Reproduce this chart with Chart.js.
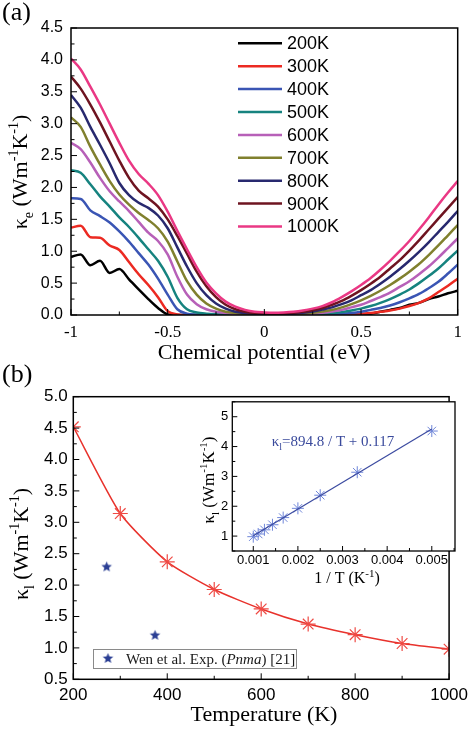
<!DOCTYPE html>
<html>
<head>
<meta charset="utf-8">
<script src="https://cdn.jsdelivr.net/npm/chart.js@4.4.0/dist/chart.umd.min.js"></script>
<style>
  html, body { margin: 0; padding: 0; background: #fff; }
  #wrap { position: relative; width: 474px; height: 729px; overflow: hidden; background: #fff; }
  canvas { position: absolute; }
</style>
</head>
<body>
<div id="wrap">
  <canvas id="chartA" width="474" height="372" style="left:0;top:0"></canvas>
  <canvas id="chartB" width="474" height="371" style="left:0;top:358px"></canvas>
  <canvas id="chartInset" width="279" height="200" style="left:195px;top:390px"></canvas>
</div>
<script>
// ---- panel (a): electronic thermal conductivity vs chemical potential ----
const mu = [-1, -0.95, -0.9, -0.85, -0.8, -0.75, -0.7, -0.65, -0.6, -0.55, -0.5, -0.45, -0.4, -0.35, -0.3, -0.25, -0.2, -0.15, -0.1, -0.05,
            0, 0.05, 0.1, 0.15, 0.2, 0.25, 0.3, 0.35, 0.4, 0.45, 0.5, 0.55, 0.6, 0.65, 0.7, 0.75, 0.8, 0.85, 0.9, 0.95, 1];
const tempLabels = ['200K', '300K', '400K', '500K', '600K', '700K', '800K', '900K', '1000K'];

const k200 = [0.91, 0.95, 0.78, 0.85, 0.66, 0.72, 0.56, 0.40, 0.25, 0.11, 0.01, 0, 0, 0, 0, 0, 0, 0, 0, 0,
              0, 0, 0, 0, 0, 0, 0, 0, 0, 0, 0, 0.02, 0.05, 0.08, 0.11, 0.16, 0.19, 0.25, 0.29, 0.34, 0.38];
const k300 = [1.37, 1.40, 1.22, 1.21, 1.09, 1.02, 0.83, 0.64, 0.47, 0.28, 0.06, 0.01, 0, 0, 0, 0, 0, 0, 0, 0,
              0, 0, 0, 0, 0, 0, 0, 0, 0, 0.01, 0.02, 0.03, 0.05, 0.07, 0.10, 0.14, 0.19, 0.26, 0.36, 0.46, 0.57];
const k400 = [1.83, 1.82, 1.64, 1.55, 1.45, 1.31, 1.15, 0.97, 0.79, 0.57, 0.32, 0.09, 0.02, 0.005, 0, 0, 0, 0, 0, 0,
              0, 0, 0, 0, 0, 0, 0, 0.01, 0.02, 0.03, 0.05, 0.08, 0.11, 0.15, 0.20, 0.26, 0.33, 0.42, 0.52, 0.65, 0.79];
const k500 = [2.27, 2.23, 2.05, 1.86, 1.70, 1.53, 1.38, 1.21, 1.03, 0.85, 0.60, 0.27, 0.09, 0.04, 0.02, 0.01, 0.005, 0, 0, 0,
              0, 0, 0, 0, 0, 0.008, 0.015, 0.03, 0.045, 0.07, 0.10, 0.14, 0.19, 0.25, 0.32, 0.40, 0.50, 0.61, 0.73, 0.87, 1.01];
const k600 = [2.70, 2.60, 2.39, 2.15, 1.94, 1.78, 1.63, 1.46, 1.29, 1.16, 0.95, 0.60, 0.32, 0.17, 0.09, 0.05, 0.03, 0.015, 0.008, 0.005,
              0.004, 0.004, 0.004, 0.006, 0.01, 0.02, 0.035, 0.055, 0.08, 0.12, 0.16, 0.22, 0.28, 0.35, 0.44, 0.53, 0.64, 0.76, 0.90, 1.05, 1.20];
const k700 = [3.10, 2.95, 2.64, 2.36, 2.10, 1.89, 1.73, 1.60, 1.49, 1.36, 1.15, 0.84, 0.53, 0.32, 0.18, 0.10, 0.05, 0.03, 0.015, 0.01,
              0.008, 0.006, 0.008, 0.012, 0.02, 0.035, 0.055, 0.08, 0.12, 0.17, 0.23, 0.30, 0.38, 0.47, 0.57, 0.68, 0.80, 0.94, 1.09, 1.25, 1.41];
const k800 = [3.45, 3.25, 2.95, 2.67, 2.38, 2.07, 1.88, 1.76, 1.68, 1.56, 1.36, 1.06, 0.76, 0.50, 0.31, 0.18, 0.10, 0.05, 0.03, 0.02,
              0.015, 0.012, 0.015, 0.02, 0.035, 0.055, 0.085, 0.12, 0.17, 0.23, 0.31, 0.39, 0.49, 0.60, 0.72, 0.85, 0.99, 1.14, 1.30, 1.46, 1.63];
const k900 = [3.74, 3.55, 3.30, 3.02, 2.72, 2.42, 2.15, 1.95, 1.83, 1.70, 1.50, 1.24, 0.96, 0.68, 0.45, 0.28, 0.16, 0.09, 0.05, 0.03,
              0.025, 0.02, 0.025, 0.035, 0.05, 0.075, 0.11, 0.16, 0.22, 0.30, 0.39, 0.49, 0.60, 0.73, 0.86, 1.01, 1.17, 1.34, 1.51, 1.68, 1.85];
const k1000 = [4.02, 3.85, 3.58, 3.30, 3.00, 2.70, 2.42, 2.21, 2.06, 1.88, 1.62, 1.32, 1.03, 0.75, 0.51, 0.34, 0.21, 0.13, 0.08, 0.05,
               0.04, 0.035, 0.04, 0.05, 0.07, 0.10, 0.14, 0.20, 0.28, 0.37, 0.47, 0.58, 0.71, 0.85, 1.00, 1.16, 1.34, 1.53, 1.73, 1.92, 2.10];
const kSeries = [k200, k300, k400, k500, k600, k700, k800, k900, k1000];

const muTicks = [-1, -0.5, 0, 0.5, 1];
const muTickLabels = ['-1', '-0.5', '0', '0.5', '1'];
const keTicks = [0, 0.5, 1, 1.5, 2, 2.5, 3, 3.5, 4, 4.5];

// ---- panel (b): lattice thermal conductivity vs temperature ----
const temps = [200, 300, 400, 500, 600, 700, 800, 900, 1000];
const kappaL = [4.52, 3.14, 2.37, 1.93, 1.62, 1.38, 1.21, 1.07, 0.98];
const wenT = [271, 374];
const wenK = [2.29, 1.20];
const tTicks = [200, 400, 600, 800, 1000];
const klTicks = [0.5, 1, 1.5, 2, 2.5, 3, 3.5, 4, 4.5, 5];

// ---- inset: kappa_l vs 1/T ----
const invT = [0.005, 0.00333, 0.0025, 0.002, 0.00167, 0.00143, 0.00125, 0.00111, 0.001];
const fitX = [0.001, 0.005];
const fitY = [1.01, 4.59];
const invTTicks = [0.001, 0.002, 0.003, 0.004, 0.005];
const insetYTicks = [1, 2, 3, 4, 5];

const curveColors = ['#000000', '#ec2a22', '#3a55b4', '#16837f', '#b760b8', '#80802e', '#28296f', '#6e1420', '#ea3884'];
const SANS = '"Liberation Sans", Arial, sans-serif';
const SERIF = '"Liberation Serif", "Times New Roman", serif';

// text with sub/superscripts, parts = [{t, s, dy, it}]
function drawRich(ctx, parts, x, y, angle, align, color) {
  ctx.save();
  ctx.translate(x, y);
  if (angle) ctx.rotate(angle);
  ctx.fillStyle = color || '#000';
  ctx.textAlign = 'left';
  ctx.textBaseline = 'alphabetic';
  let total = 0;
  parts.forEach(p => {
    ctx.font = (p.it ? 'italic ' : '') + p.s + 'px ' + SERIF;
    p.w = ctx.measureText(p.t).width;
    total += p.w;
  });
  let cx = align === 'left' ? 0 : -total / 2;
  parts.forEach(p => {
    ctx.font = (p.it ? 'italic ' : '') + p.s + 'px ' + SERIF;
    ctx.fillText(p.t, cx, p.dy || 0);
    cx += p.w;
  });
  ctx.restore();
}

function kappaTitle(sub, big, small) {
  return [
    { t: 'κ', s: big },
    { t: sub, s: small, dy: big * 0.28 },
    { t: ' (Wm', s: big },
    { t: '-1', s: small, dy: -big * 0.4 },
    { t: 'K', s: big },
    { t: '-1', s: small, dy: -big * 0.4 },
    { t: ')', s: big }
  ];
}

// frame box plus inward major/minor ticks on bottom and left axes
const frameTicks = {
  id: 'frameTicks',
  afterDatasetsDraw(chart, args, opts) {
    const { ctx, chartArea: a, scales } = chart;
    ctx.save();
    ctx.strokeStyle = '#000';
    ctx.lineWidth = opts.lw || 1.5;
    ctx.strokeRect(a.left, a.top, a.right - a.left, a.bottom - a.top);
    ctx.lineWidth = 1;
    ['x', 'y'].forEach(id => {
      const s = scales[id];
      const [major, minor] = opts[id];
      let v = Math.ceil(s.min / minor - 1e-6) * minor;
      for (; v <= s.max + 1e-9; v += minor) {
        const isMajor = Math.abs(v / major - Math.round(v / major)) < 1e-4;
        const len = isMajor ? (opts.major || 6) : (opts.minor || 3.5);
        const p = s.getPixelForValue(v);
        ctx.beginPath();
        if (id === 'x') { ctx.moveTo(p, a.bottom); ctx.lineTo(p, a.bottom - len); }
        else { ctx.moveTo(a.left, p); ctx.lineTo(a.left + len, p); }
        ctx.stroke();
      }
    });
    ctx.restore();
  }
};

const textLayer = {
  id: 'textLayer',
  afterDraw(chart, args, opts) {
    if (opts.draw) opts.draw(chart.ctx, chart);
  }
};

function axis(min, max, ticks, labelFn, font, pad, size) {
  return {
    type: 'linear', min, max,
    afterBuildTicks: s => { s.ticks = ticks.map(v => ({ value: v })); },
    afterFit: s => { if (s.isHorizontal()) s.height = size; else s.width = size; },
    grid: { display: false, drawTicks: false },
    border: { display: false },
    ticks: {
      autoSkip: false, maxRotation: 0, padding: pad, color: '#000', font,
      callback: labelFn
    }
  };
}

// ---------------- chart (a) ----------------
new Chart(document.getElementById('chartA'), {
  type: 'line',
  data: {
    datasets: tempLabels.map((lab, i) => ({
      label: lab,
      data: mu.map((m, j) => ({ x: m, y: kSeries[i][j] })),
      borderColor: curveColors[i],
      backgroundColor: curveColors[i],
      borderWidth: 2.5,
      pointRadius: 0,
      cubicInterpolationMode: 'monotone',
      order: 9 - i
    }))
  },
  options: {
    responsive: false,
    animation: false,
    layout: { padding: { top: 28, right: 16.3, left: 0, bottom: 0 } },
    plugins: {
      legend: { display: false },
      tooltip: { enabled: false },
      frameTicks: { x: [0.5, 0.25], y: [0.5, 0.25] },
      textLayer: {
        draw(ctx, chart) {
          // legend
          chart.data.datasets.forEach((ds, i) => {
            const y = 43.3 + i * 22.9;
            ctx.save();
            ctx.strokeStyle = ds.borderColor;
            ctx.lineWidth = 2.5;
            ctx.beginPath(); ctx.moveTo(238, y); ctx.lineTo(282, y); ctx.stroke();
            ctx.fillStyle = '#000';
            ctx.font = '18px ' + SANS;
            ctx.textBaseline = 'middle';
            ctx.fillText(ds.label, 287, y + 1);
            ctx.restore();
          });
          drawRich(ctx, [{ t: '(a)', s: 26 }], 2, 20, 0, 'left');
          drawRich(ctx, [{ t: 'Chemical potential (eV)', s: 22 }], 264, 359);
          drawRich(ctx, kappaTitle('e', 22, 14), 27, 172, -Math.PI / 2);
        }
      }
    },
    scales: {
      x: axis(-1, 1, muTicks, (v, i) => muTickLabels[i], { family: SERIF, size: 17 }, 7, 57),
      y: axis(0, 4.5, keTicks, v => v.toFixed(1), { family: SANS, size: 16 }, 8, 71)
    }
  },
  plugins: [frameTicks, textLayer]
});

// filled five-point star used for the experimental points
function makeStar(r, color) {
  const c = document.createElement('canvas');
  c.width = c.height = 2 * r + 2;
  const g = c.getContext('2d');
  g.fillStyle = color;
  g.beginPath();
  for (let i = 0; i < 10; i++) {
    const rad = i % 2 ? r * 0.45 : r;
    const ang = -Math.PI / 2 + i * Math.PI / 5;
    g.lineTo(r + 1 + rad * Math.cos(ang), r + 1 + rad * Math.sin(ang));
  }
  g.closePath();
  g.fill();
  return c;
}
const starImg = makeStar(5.5, '#2b3f94');

// ---------------- chart (b) ----------------
new Chart(document.getElementById('chartB'), {
  type: 'line',
  data: {
    datasets: [
      {
        label: 'calc',
        data: temps.map((t, i) => ({ x: t, y: kappaL[i] })),
        borderColor: '#e8322c',
        backgroundColor: '#e8322c',
        borderWidth: 1.5,
        pointStyle: 'star',
        pointRadius: 7.5,
        pointBorderWidth: 1.2,
        pointBorderColor: '#ef4a44',
        tension: 0.2
      },
      {
        label: 'Wen et al. Exp. (Pnma) [21]',
        data: wenT.map((t, i) => ({ x: t, y: wenK[i] })),
        showLine: false,
        pointStyle: starImg,
        pointRadius: 6
      }
    ]
  },
  options: {
    responsive: false,
    animation: false,
    layout: { padding: { top: 38.7, right: 20, left: 0, bottom: 0 } },
    plugins: {
      legend: { display: false },
      tooltip: { enabled: false },
      frameTicks: { x: [200, 100], y: [0.5, 0.25] },
      textLayer: {
        draw(ctx) {
          // legend box
          ctx.save();
          ctx.fillStyle = '#fff';
          ctx.fillRect(93, 291, 203, 19);
          ctx.strokeStyle = '#8a8a8a';
          ctx.lineWidth = 1;
          ctx.strokeRect(93.5, 291.5, 203, 19);
          ctx.drawImage(starImg, 108 - starImg.width / 2, 300.5 - starImg.height / 2);
          ctx.restore();
          drawRich(ctx, [
            { t: 'Wen et al. Exp. (', s: 15 },
            { t: 'Pnma', s: 15, it: true },
            { t: ') [21]', s: 15 }
          ], 126, 306, 0, 'left', '#1a1a1a');
          drawRich(ctx, [{ t: '(b)', s: 26 }], 2, 24, 0, 'left');
          drawRich(ctx, [{ t: 'Temperature (K)', s: 22 }], 264, 363);
          drawRich(ctx, kappaTitle('l', 22, 14), 28, 186, -Math.PI / 2);
        }
      }
    },
    scales: {
      x: axis(200, 1000, tTicks, v => String(v), { family: SANS, size: 17 }, 6, 49.7),
      y: axis(0.5, 5, klTicks, v => v.toFixed(1), { family: SANS, size: 17 }, 5.6, 73.3)
    }
  },
  plugins: [frameTicks, textLayer]
});

// ---------------- inset ----------------
const insetBg = {
  id: 'insetBg',
  beforeDatasetsDraw(chart) {
    const { ctx, chartArea: a } = chart;
    ctx.save();
    ctx.fillStyle = '#fff';
    ctx.fillRect(a.left, a.top, a.right - a.left, a.bottom - a.top);
    ctx.restore();
  }
};

new Chart(document.getElementById('chartInset'), {
  type: 'line',
  data: {
    datasets: [
      {
        label: 'fit',
        data: fitX.map((x, i) => ({ x, y: fitY[i] })),
        borderColor: '#3b4aa0',
        borderWidth: 1.2,
        pointRadius: 0
      },
      {
        label: 'points',
        data: invT.map((x, i) => ({ x, y: kappaL[i] })),
        showLine: false,
        pointStyle: 'star',
        pointRadius: 6,
        pointBorderWidth: 1,
        pointBorderColor: '#6f86d9',
        backgroundColor: '#6f86d9'
      }
    ]
  },
  options: {
    responsive: false,
    animation: false,
    layout: { padding: { top: 6.7, right: 19, left: 0, bottom: 0 } },
    plugins: {
      legend: { display: false },
      tooltip: { enabled: false },
      frameTicks: { x: [0.001, 0.0005], y: [1, 0.5], major: 5, minor: 3, lw: 1.3 },
      textLayer: {
        draw(ctx) {
          drawRich(ctx, [
            { t: 'κ', s: 15 },
            { t: 'l', s: 10, dy: 4 },
            { t: '=894.8 / T + 0.117', s: 15 }
          ], 76.7, 56, 0, 'left', '#3a4a9c');
          drawRich(ctx, [
            { t: '1 / T (K', s: 16 },
            { t: '-1', s: 11, dy: -6 },
            { t: ')', s: 16 }
          ], 152, 193);
          drawRich(ctx, kappaTitle('l', 17, 11), 19, 90, -Math.PI / 2);
        }
      }
    },
    scales: {
      x: axis(0.00053, 0.00552, invTTicks, v => v.toFixed(3), { family: SANS, size: 13 }, 2, 39),
      y: axis(0.5, 5.5, insetYTicks, v => String(v), { family: SANS, size: 13 }, 4, 37.3)
    }
  },
  plugins: [insetBg, frameTicks, textLayer]
});
</script>
</body>
</html>
